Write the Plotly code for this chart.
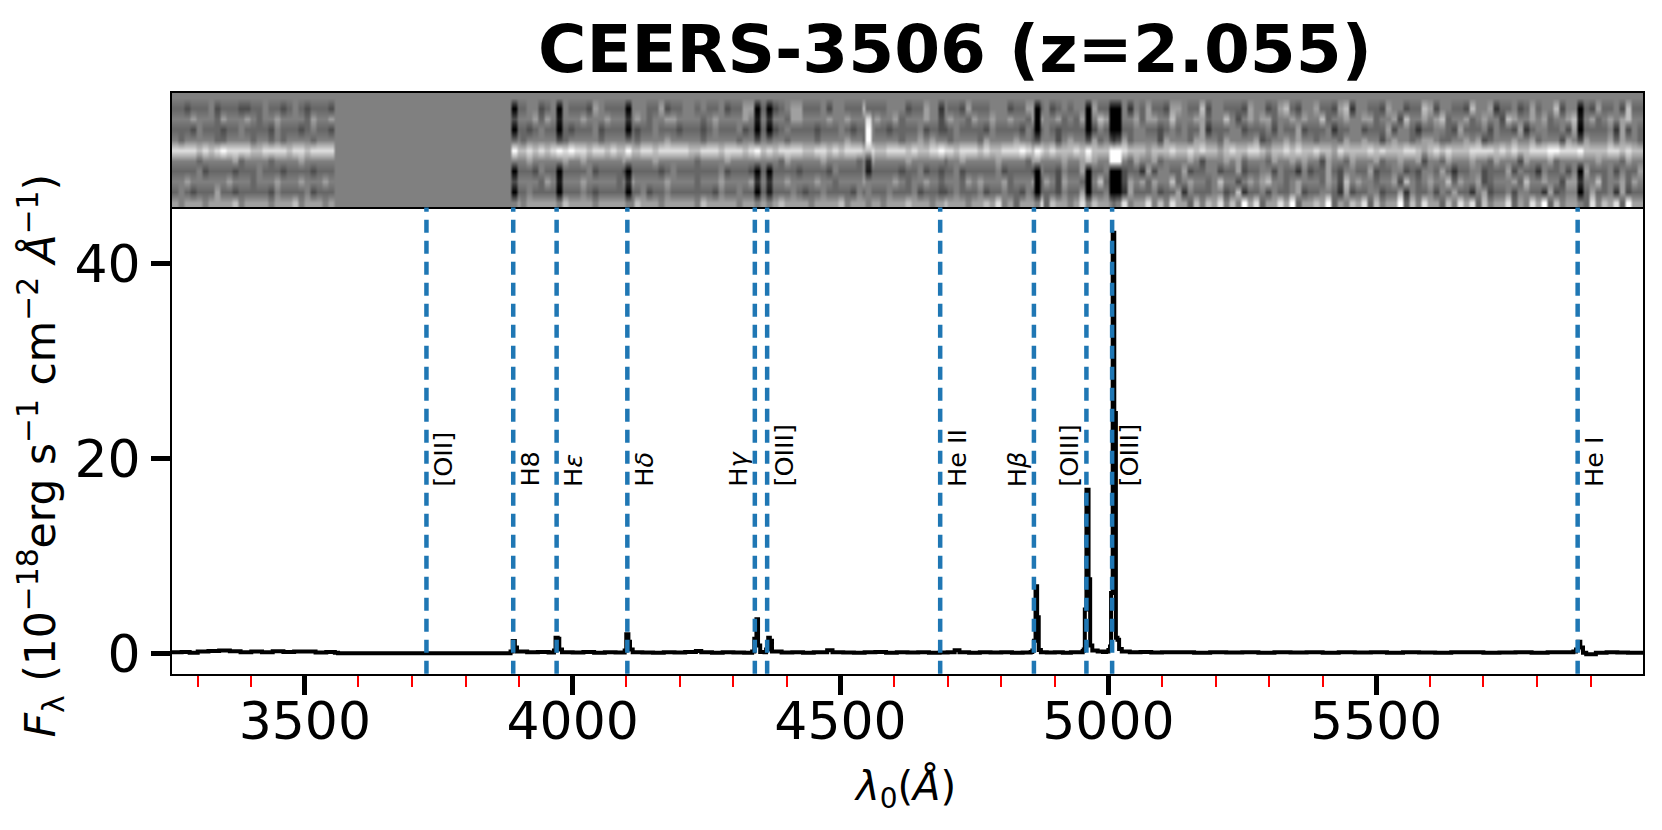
"""CEERS-3506 spectrum: 2D cutout on top, 1D flux with line markers below."""

import numpy as np
import plotly.graph_objects as go

# 1D spectrum
WAVE = [3252, 3270, 3285, 3300, 3320, 3340, 3360, 3380, 3400, 3420, 3440, 3460, 3480, 3500, 3520, 3540, 3556,
        3562, 3880, 3884, 3888, 3892, 3896, 3915, 3935, 3955, 3965, 3968, 3972, 3975, 3980, 4000, 4020, 4040,
        4060, 4080, 4097, 4100, 4104, 4107, 4112, 4130, 4150, 4170, 4190, 4210, 4230, 4240, 4260, 4280, 4300,
        4320, 4335, 4339, 4343, 4346, 4350, 4358, 4361, 4365, 4368, 4372, 4390, 4410, 4430, 4450, 4465, 4475,
        4485, 4505, 4525, 4545, 4565, 4585, 4605, 4625, 4645, 4665, 4685, 4700, 4713, 4722, 4740, 4760, 4780,
        4800, 4820, 4840, 4855, 4858, 4861, 4864, 4867, 4870, 4874, 4885, 4900, 4915, 4930, 4945, 4952, 4954,
        4956, 4959, 4963, 4966, 4970, 4980, 4990, 4996, 5000, 5003, 5005, 5008, 5011, 5014, 5017, 5020, 5025,
        5040, 5060, 5080, 5100, 5130, 5160, 5190, 5220, 5250, 5280, 5310, 5340, 5370, 5400, 5430, 5460, 5490,
        5520, 5550, 5580, 5610, 5640, 5670, 5700, 5730, 5760, 5790, 5820, 5850, 5868, 5873, 5877, 5881, 5886,
        5892, 5910, 5930, 5950, 5970, 5998]
FLUX = [0.10, 0.15, 0.05, 0.20, 0.25, 0.30, 0.22, 0.12, 0.20, 0.10, 0.22, 0.15, 0.20, 0.18, 0.08, 0.15, 0.05,
        0.00, 0.00, 0.20, 1.26, 0.60, 0.20, 0.10, 0.15, 0.08, 0.30, 1.60, 1.50, 0.40, 0.12, 0.08, 0.15, 0.05,
        0.12, 0.08, 0.30, 1.95, 1.20, 0.40, 0.12, 0.08, 0.05, 0.12, 0.08, 0.15, 0.25, 0.10, 0.05, 0.12, 0.08,
        0.05, 0.20, 1.50, 3.50, 0.80, 0.15, 0.12, 0.40, 1.60, 1.30, 0.20, 0.08, 0.12, 0.05, 0.10, 0.12, 0.32,
        0.12, 0.08, 0.05, 0.12, 0.15, 0.05, 0.10, 0.08, 0.12, 0.05, 0.08, 0.10, 0.32, 0.12, 0.05, 0.10, 0.08,
        0.12, 0.05, 0.08, 0.15, 0.30, 1.30, 6.90, 3.70, 0.35, 0.10, 0.08, 0.12, 0.05, 0.10, 0.12, 0.25, 0.40,
        4.50, 16.8, 7.60, 0.80, 0.30, 0.20, 0.15, 0.20, 0.35, 0.70, 6.20, 43.2, 24.7, 1.60, 1.40, 0.45, 0.20,
        0.10, 0.15, 0.08, 0.12, 0.10, 0.05, 0.12, 0.08, 0.10, 0.05, 0.12, 0.08, 0.10, 0.05, 0.12, 0.08, 0.10,
        0.05, 0.12, 0.08, 0.05, 0.10, 0.12, 0.05, 0.08, 0.12, 0.05, 0.10, 0.12, 0.20, 0.40, 1.20, 0.60, 0.05,
        -0.10, 0.05, 0.12, 0.08, 0.05, 0.08]

# line markers: wavelength, label, side of the dashed line the label sits on
LINE_WAVES = [3727, 3889, 3970, 4102, 4340, 4363, 4686, 4861, 4959, 5007, 5876]
LINE_LABELS = ["[OII]", "H8", "H<i>ε</i>", "H<i>δ</i>", "H<i>γ</i>", "[OIII]", "He II", "H<i>β</i>",
               "[OIII]", "[OIII]", "He I"]
LINE_SIDES = [1, 1, 1, 1, -1, 1, 1, -1, -1, 1, 1]

X_TICKS = [3500, 4000, 4500, 5000, 5500]
Y_TICKS = [0, 20, 40]

# 2D cutout, grey levels by eye: 0 black, 5 mid grey, 9 white.
# One string per row below the empty top row; blue part ends at the chip gap.
CUTOUT_BLUE = [
    "443444534443344544345434443",
    "555655546555654556555546556",
    "444354443445444435444345443",
    "545555544555545545455554555",
    "888878789888877888878878888",
    "555545555564555545555655555",
    "444453444434445444344443444",
    "556555555655545556555655565",
    "454344464434444435444453444",
    "656665666675666656667566656",
]
CUTOUT_RED = [
    "4455345554 4436544445 5544634455 4544534466 5443456644 4535544474 4455534465 5544364445 5534466453 4545536444 5525464436 6544735544 4365534674 3556443672 5544365534 4763554437 5562445346 4557355443 6445374455",
    "5556465555 5655565555 6545566555 5456555565 6555546655 5565565555 6556455565 5565546556 5565546655 6454655765 5556466557 5556645575 3565664556 5655745565 5664556375 5656745564 5655376556 5645567556 4565675564",
    "4434544443 4445344444 3445444344 4345444534 4443454444 3444543445 4434444534 4345444435 4444354454 3444453544 2445544345 4544624445 5344453544 6344452445 5344463554 2445543644 4535443624 5544536344 4452635445",
    "5455555545 5555455555 4555565555 5455555455 6555545555 4555565545 5555455656 5545555465 5556554555 3565556455 5645555365 5546655465 5556345565 6554555465 5655356554 5665445565 6345556556 4555365565 5564655455",
    "7787878889 8878878777 7887888887 7888788878 8787888877 8878788878 7788878778 8887888787 7888987878 7778787777 8877767778 7787877678 7788767787 8778776877 7787877788 7678787778 8887878778 8899888777 7788787778",
    "5565555565 5655555565 5556555555 4555565555 5555465555 5655555456 5555565555 5455655555 6555546555 5655646555 6546556455 5565355565 6455546556 5655365546 5556455655 6355465556 5546555365 5564555455 6555465556",
    "4443544444 4453444434 4444345444 4444534443 4454444344 4435444454 4444344534 4445344444 5344443544 3544634453 5344263554 4634455344 6344553544 2534464355 4463445534 3554642445 5344463544 2544535364 4453544634",
    "5555465555 5655555456 5555565555 4555655556 5545565555 6554555565 5556545565 5555465655 5645556465 3655465745 5365646557 4565545755 3565675545 6555465375 6554556375 4565574655 6345556475 5655366555 7455646557",
    "4454444544 4543444444 4534454444 4443544544 5444445434 4544443544 4454445344 4345444534 4544354444 3544634453 5264445344 6254445534 7244535445 6344554263 4455344625 4453546442 5634453554 4263455346 4452634455",
    "6566666576 6665666665 7666566666 5766666566 6656766665 6666756666 6566676665 6766656676 8564666847 6656847665 4856685758 6647576857 5968466869 4667694657 6847566947 5866475868 4756684658 6947566948 5768496668",
]

# emission lines and one stray blob in the cutout: wavelength, grey per row
STRIPE_WAVES = [3889, 3970, 4102, 4340, 4363, 4550, 4686, 4861, 4959, 5002, 5007, 5012, 5876]
STRIPE_ROWS = ["50304950305", "50103950105", "50204950205", "50103950205", "50204850215", "54899721555",
               "52335953436", "50003960005", "50003970005", "50003990005", "50002990004", "50003990005",
               "50103950205"]

X_RANGE = [3252, 5998]
COLS = 245
DX = (X_RANGE[1] - X_RANGE[0]) / COLS / 2   # stripes are placed on half columns


def build_cutout():
    """Put the grey strings into a rows x columns array."""
    z = np.full((11, COLS), 5.0)
    for i, (blue, red) in enumerate(zip(CUTOUT_BLUE, CUTOUT_RED)):
        red = red.replace(" ", "")[:COLS - 57]
        z[i + 1, :len(blue)] = [int(c) for c in blue]
        z[i + 1, 57:57 + len(red)] = [int(c) for c in red]
    z = np.repeat(z, 2, axis=1)
    for wave, rows in zip(STRIPE_WAVES, STRIPE_ROWS):
        col = int((wave - X_RANGE[0]) / DX)
        z[:, col:col + 2] = [[int(c)] for c in rows]
    return z


W, H = 1662, 830

fig = go.Figure()
fig.add_trace(go.Heatmap(
    z=build_cutout(), x0=X_RANGE[0] + DX / 2, dx=DX, xaxis="x2", yaxis="y2",
    colorscale=[[0, "#000000"], [0.5, "#808080"], [0.9, "#ffffff"], [1, "#ffffff"]],
    zmin=0, zmax=10, zsmooth="best", showscale=False,
))
fig.add_trace(go.Scatter(
    x=WAVE, y=FLUX, mode="lines", line=dict(color="black", width=4, shape="hv"),
))

for wave, label, side in zip(LINE_WAVES, LINE_LABELS, LINE_SIDES):
    fig.add_shape(type="line", x0=wave, x1=wave, y0=0, y1=1, xref="x", yref="y domain",
                  line=dict(color="#1f77b4", width=4.5, dash="13px,8px"))
    fig.add_annotation(x=wave, y=16.9, text=label, textangle=-90, showarrow=False,
                       xshift=side * 17, yanchor="bottom",
                       font=dict(size=25.5, color="black"))

fig.add_annotation(x=955 / W, y=1 - 50 / H, xref="paper", yref="paper", xanchor="center", yanchor="middle",
                   text="<b>CEERS-3506 (z=2.055)</b>", showarrow=False, font=dict(size=66, color="black"))
fig.add_annotation(x=41 / W, y=1 - 461 / H, xref="paper", yref="paper", xanchor="center", yanchor="middle",
                   textangle=-90, showarrow=False,
                   text="<i>F</i><sub>λ</sub> (10<sup>−18</sup>erg s<sup>−1</sup> cm<sup>−2</sup> "
                        "<i>Å</i><sup>−1</sup>)",
                   font=dict(size=42.5, color="black"))
fig.add_annotation(x=905 / W, y=1 - 798 / H, xref="paper", yref="paper", xanchor="center", yanchor="middle",
                   showarrow=False, text="<i>λ</i><sub>0</sub>(<i>Å</i>)", font=dict(size=40, color="black"))

fig.update_layout(
    width=W, height=H,
    margin=dict(l=0, r=0, t=0, b=0),
    paper_bgcolor="white", plot_bgcolor="white",
    font=dict(family="DejaVu Sans", color="black"),
    showlegend=False,
    xaxis=dict(
        domain=[172 / W, 1643 / W], range=X_RANGE, anchor="y",
        tickmode="array", tickvals=X_TICKS, ticks="outside", ticklen=19, tickwidth=5, tickcolor="black",
        tickfont=dict(size=52), ticklabelstandoff=-18, showgrid=False, zeroline=False,
        showline=True, linecolor="black", linewidth=2, mirror=True,
        minor=dict(tickmode="linear", tick0=3000, dtick=100, ticks="outside", ticklen=11, tickwidth=1.5,
                   tickcolor="red", showgrid=False),
    ),
    yaxis=dict(
        domain=[1 - 682 / H, 1 - 210 / H], range=[-2.1, 45.8],
        tickmode="array", tickvals=Y_TICKS, ticks="outside", ticklen=19, tickwidth=5, tickcolor="black",
        tickfont=dict(size=52), showgrid=False, zeroline=False,
        showline=True, linecolor="black", linewidth=2, mirror=True,
    ),
    xaxis2=dict(
        domain=[172 / W, 1643 / W], range=X_RANGE, anchor="y2", showticklabels=False, ticks="",
        showgrid=False, zeroline=False, showline=True, linecolor="black", linewidth=2, mirror=True,
    ),
    yaxis2=dict(
        domain=[1 - 210 / H, 1 - 94 / H], range=[10.5, -0.5], anchor="x2", showticklabels=False, ticks="",
        showgrid=False, zeroline=False, showline=True, linecolor="black", linewidth=2, mirror=True,
    ),
)

fig.write_html("out.html", config=dict(displayModeBar=False),
               post_script="document.body.style.margin='0';")
